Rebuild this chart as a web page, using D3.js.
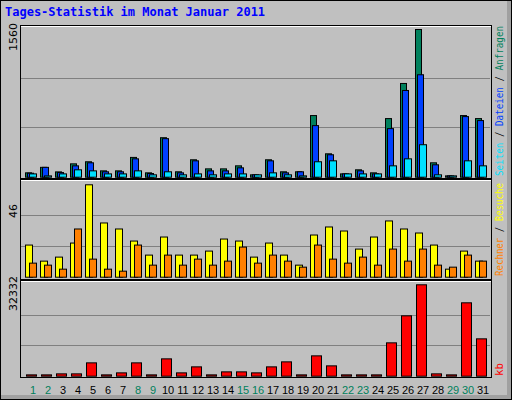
<!DOCTYPE html>
<html><head><meta charset="utf-8">
<script src="https://cdn.jsdelivr.net/npm/d3@7"></script>
<style>body{margin:0;background:#fff}svg{display:block}</style>
</head><body><svg id="c" width="512" height="400"></svg>
<script>
const days = d3.range(1, 32);
const weekend = [1,2,8,9,15,16,22,23,29,30];
const hits  = [46,104,56,141,163,67,67,209,46,417,57,184,88,88,120,25,184,57,57,651,247,35,78,46,619,990,1560,152,14,651,619];
const files = [42,104,49,120,152,57,57,194,39,407,46,173,67,67,99,25,173,46,57,545,237,35,67,35,513,916,1082,131,14,640,598];
const pages = [35,14,35,78,67,35,35,67,25,57,25,35,25,35,35,25,46,25,14,163,173,35,35,35,120,194,343,25,14,173,120];
const visits = [16,8,10,17,46,27,24,18,11,20,11,11,13,19,18,10,17,11,6,21,25,23,14,20,28,24,22,16,4,13,8];
const hosts  = [7,6,4,24,9,4,3,16,6,11,6,9,6,8,15,7,11,8,5,16,9,7,10,6,14,8,14,6,5,11,8];
const kb = [472,472,826,826,4720,472,1180,4720,472,6136,1180,3304,472,1534,1534,1180,3304,5074,472,7198,3658,472,472,472,11800,21358,32332,826,472,25960,13216];
const maxTop = 1560, maxMid = 46, maxKb = 32332;

const svg = d3.select("#c");
svg.append("rect").attr("x",0).attr("y",0).attr("width",512).attr("height",400).attr("fill","#000");
svg.append("rect").attr("x",1).attr("y",1).attr("width",510).attr("height",398).attr("fill","#a0a0a0");
svg.append("rect").attr("x",1).attr("y",1).attr("width",506).attr("height",394).attr("fill","#c0c0c0");
svg.append("text").attr("x",5).attr("y",16).text("Tages-Statistik im Monat Januar 2011")
  .attr("fill","#0000ff").attr("font-family","'DejaVu Sans Mono',monospace").attr("font-weight","bold").attr("font-size",12);

const x = d3.scaleLinear().domain([1,31]).range([25,475]);
const panels = [
  {top:25, bottom:178, y0:176.7, y1:29},
  {top:179, bottom:279, y0:276.7, y1:184.3},
  {top:280, bottom:377, y0:375.7, y1:284.3}
];
panels.forEach(p=>{
  svg.append("rect").attr("x",20.5).attr("y",p.top+0.5).attr("width",471).attr("height",p.bottom-p.top)
    .attr("fill","#c0c0c0").attr("stroke","#000").attr("stroke-width",1);
  svg.append("line").attr("x1",21).attr("x2",491).attr("y1",p.top+1.5).attr("y2",p.top+1.5).attr("stroke","#fff");
});

function grid(p, n){
  const y = d3.scaleLinear().domain([0,n]).range([p.y0,p.y1]);
  [n/3, 2*n/3].forEach(v=>svg.append("line").attr("x1",21).attr("x2",490).attr("y1",Math.round(y(v))+0.5).attr("y2",Math.round(y(v))+0.5).attr("stroke","#808080").attr("stroke-width",1));
  return y;
}
const yT = grid(panels[0], maxTop), yM = grid(panels[1], maxMid), yB = grid(panels[2], maxKb);

function bars(data, y, off, w, color){
  svg.append("g").selectAll("rect").data(data).join("rect")
    .attr("x",(d,i)=>x(i+1)+off+0.5).attr("width",w)
    .attr("y",d=>Math.min(y(d), y(0)-1)+0.5).attr("height",d=>Math.max(1, y(0)-y(d)))
    .attr("fill",color).attr("stroke","#000").attr("stroke-width",1);
}
bars(hits, yT, 0, 6, "#00805c");
bars(files, yT, 2, 6, "#0040ff");
bars(pages, yT, 4, 7, "#00e0ff");
bars(visits, yM, 0, 7, "#ffff00");
bars(hosts, yM, 4, 7, "#ff8000");
bars(kb, yB, 1, 10, "#ff0000");

const font = "'DejaVu Sans',sans-serif";
function vlabel(xp, yp, txt){
  svg.append("text").attr("transform",`translate(${xp},${yp}) rotate(-90)`).text(txt)
    .attr("font-family",font).attr("font-size",11).attr("fill","#000");
}
vlabel(17, 51, String(maxTop));
vlabel(17, 218, String(maxMid));
vlabel(17, 311, String(maxKb));

function rlabel(yp, len, parts){
  const t = svg.append("text").attr("transform",`translate(503,${yp}) rotate(-90)`)
    .attr("font-family","'DejaVu Sans Mono',monospace").attr("font-size",11)
    .attr("textLength",len).attr("lengthAdjust","spacingAndGlyphs");
  parts.forEach(([s,c])=>t.append("tspan").text(s).attr("fill",c));
}
rlabel(176, 150, [["Seiten","#00e0ff"],[" / ","#000"],["Dateien","#0040ff"],[" / ","#000"],["Anfragen","#00805c"]]);
rlabel(276, 93, [["Rechner","#ff8000"],[" / ","#000"],["Besuche","#ffff00"]]);
rlabel(376, 13, [["kb","#ff0000"]]);

svg.append("g").selectAll("text").data(days).join("text")
  .attr("x",d=>x(d)+8).attr("y",394).attr("text-anchor","middle").text(d=>d)
  .attr("font-family","'Liberation Sans',sans-serif").attr("font-size",11)
  .attr("fill",d=>weekend.includes(d)?"#00805c":"#000");
</script></body></html>
